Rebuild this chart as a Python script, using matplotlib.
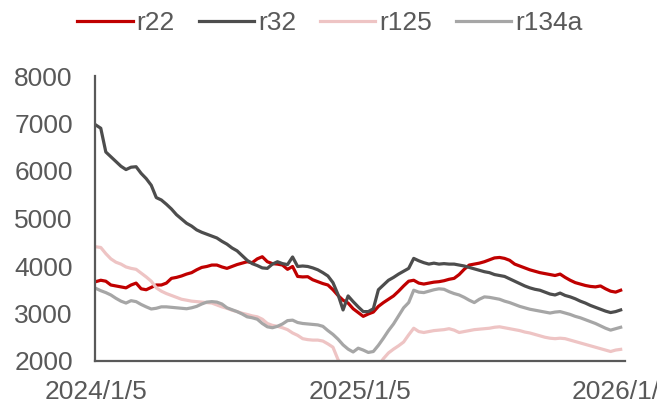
"""Weekly refrigerant prices: r22, r32, r125, r134a."""
import pandas as pd
import matplotlib
matplotlib.use('Agg')
import matplotlib.pyplot as plt

plt.rcParams['font.family'] = ['Liberation Sans', 'DejaVu Sans']

# Weekly dates, starting 2024/1/5
dates = pd.date_range('2024-01-05', periods=105, freq='7D')

r22 = [
    3670, 3700, 3680, 3600, 3580, 3560, 3540, 3600, 3640, 3520,
    3500, 3550, 3600, 3600, 3640, 3740, 3760, 3790, 3830, 3860,
    3920, 3970, 3990, 4020, 4020, 3980, 3950, 3990, 4030, 4060,
    4090, 4070, 4150, 4195, 4090, 4050, 4040, 4020, 3930, 3990,
    3780, 3770, 3775, 3710, 3670, 3630, 3600, 3500, 3380, 3280,
    3220, 3100, 3020, 2940, 2990, 3030, 3150, 3230, 3300, 3370,
    3470, 3580, 3680, 3700, 3640, 3620, 3640, 3660, 3670, 3690,
    3720, 3740, 3820, 3930, 4020, 4040, 4060, 4090, 4130, 4170,
    4180, 4160, 4120, 4040, 4000, 3960, 3920, 3890, 3860, 3840,
    3820, 3800, 3830, 3760, 3700, 3650, 3620, 3590, 3570, 3560,
    3580, 3520, 3470, 3450, 3490,
]
r32 = [
    6970, 6900, 6400, 6300, 6200, 6100, 6030, 6080, 6090, 5950,
    5840, 5700, 5440, 5390, 5300, 5200, 5080, 4990, 4900, 4840,
    4760, 4710, 4670, 4630, 4590, 4520, 4460, 4380, 4320, 4220,
    4120, 4050, 4010, 3960, 3950, 4040, 4090, 4050, 4030, 4190,
    3990, 4000, 3990, 3960, 3920, 3860, 3790, 3650, 3400, 3075,
    3370, 3250, 3140, 3040, 3040, 3100, 3500, 3600, 3700, 3760,
    3830, 3890, 3950, 4160, 4110, 4070, 4040, 4060, 4040, 4050,
    4040, 4040, 4020, 4000, 3970, 3940, 3910, 3880, 3860, 3820,
    3800, 3780, 3730, 3680, 3630, 3580, 3540, 3510, 3490, 3450,
    3410, 3390, 3430, 3380, 3350, 3310, 3260, 3220, 3170, 3130,
    3090, 3050, 3020, 3040, 3075,
]
r125 = [
    4405, 4390, 4260, 4150, 4080, 4040, 3980, 3950, 3930, 3850,
    3770, 3680, 3540, 3470, 3420, 3380, 3340, 3300, 3280, 3260,
    3250, 3240, 3230, 3220, 3180, 3140, 3110, 3070, 3040, 3005,
    2980, 2950, 2930, 2880, 2790, 2750, 2730, 2700, 2660, 2590,
    2540, 2470, 2450, 2440, 2440, 2420, 2360, 2290, 2030, 1850,
    1800, 1780, 1760, 1750, 1770, 1800, 1900, 2050, 2170, 2250,
    2320, 2400, 2550, 2690, 2620, 2600, 2620, 2640, 2650, 2660,
    2680, 2650, 2600, 2620, 2640, 2660, 2670, 2680, 2690, 2710,
    2720, 2700, 2680, 2660, 2640, 2610, 2590, 2560, 2530, 2500,
    2480, 2470, 2480, 2470, 2440, 2410, 2380, 2350, 2320, 2290,
    2260, 2230, 2200, 2230, 2245,
]
r134a = [
    3530, 3480, 3440, 3390, 3320, 3260, 3220, 3270, 3250, 3190,
    3140, 3095, 3110, 3140, 3140, 3130, 3120, 3110, 3100, 3120,
    3150, 3200, 3240, 3250, 3240, 3200, 3120, 3080, 3040, 2990,
    2930, 2910, 2880, 2790, 2720, 2700, 2730, 2780, 2850, 2860,
    2810, 2790, 2780, 2770, 2760, 2730, 2640, 2560, 2460, 2340,
    2250, 2190, 2270, 2230, 2180, 2200, 2330, 2480, 2640, 2780,
    2950, 3120, 3230, 3490, 3450, 3440, 3470, 3500, 3520, 3510,
    3460, 3420, 3390, 3340, 3280, 3230, 3300, 3350, 3340, 3320,
    3300, 3260, 3230, 3190, 3150, 3120, 3090, 3070, 3050, 3030,
    3010, 3030, 3040, 3010, 2980, 2940, 2910, 2870, 2830, 2790,
    2740, 2690, 2650, 2680, 2710,
]

series = [
    ('r22', r22, '#C00000'),
    ('r32', r32, '#4D4D4D'),
    ('r125', r125, '#EEC4C4'),
    ('r134a', r134a, '#A6A6A6'),
]

x_ticks = pd.to_datetime(['2024-01-05', '2025-01-05', '2026-01-05'])
x_labels = ['2024/1/5', '2025/1/5', '2026/1/5']
y_ticks = [2000, 3000, 4000, 5000, 6000, 7000, 8000]

text_col = '#595959'
fs = 19

fig = plt.figure(figsize=(6.57, 4.03), dpi=100)
ax = fig.add_axes([95 / 657, 1 - 361 / 403, 530 / 657, 285 / 403])

for name, vals, col in series:
    ax.plot(dates, vals, color=col, lw=2.3, label=name)

ax.set_ylim(2000, 8000)
ax.set_yticks(y_ticks)
ax.set_yticklabels([str(v) for v in y_ticks], fontsize=fs, color=text_col)
ax.set_xlim(pd.Timestamp('2024-01-04'), pd.Timestamp('2026-01-08'))
ax.set_xticks(x_ticks)
ax.set_xticklabels(x_labels, fontsize=fs, color=text_col)
ax.tick_params(axis='both', length=0)
ax.tick_params(axis='y', pad=16)
ax.tick_params(axis='x', pad=13.5)

for side in ['top', 'right']:
    ax.spines[side].set_visible(False)
for side in ['left', 'bottom']:
    ax.spines[side].set_color('#595959')
    ax.spines[side].set_linewidth(1.6)

fig.legend(loc='center', bbox_to_anchor=(0.502, 1 - 23 / 403), ncol=4,
           frameon=False, fontsize=fs, labelcolor=text_col,
           handlelength=2.1, handletextpad=0.15, columnspacing=0.9,
           borderpad=0, borderaxespad=0)

fig.savefig('out.png', dpi=100)
